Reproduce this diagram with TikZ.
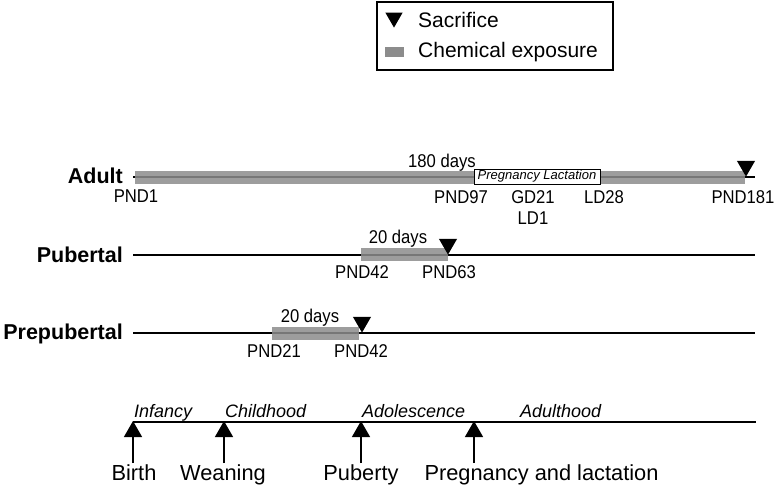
\documentclass[tikz,border=0pt]{standalone}
\usepackage{fontspec}
\setmainfont{Liberation Sans}
\newfontfamily\narrowsans[FakeStretch=0.9]{Liberation Sans}
\usetikzlibrary{shapes.geometric, arrows.meta}
\definecolor{exposuregray}{RGB}{140,140,140}

\begin{document}
\begin{tikzpicture}[
    x=1pt, y=-1pt,
    group/.style={inner sep=0pt, anchor=base east, font=\fontsize{21.5}{25}\selectfont\bfseries},
    daylbl/.style={inner sep=0pt, anchor=base, font=\narrowsans\fontsize{18.5}{21}\selectfont},
    period/.style={inner sep=0pt, anchor=base west, font=\fontsize{18}{21}\selectfont\itshape},
    event/.style={inner sep=0pt, anchor=base, font=\fontsize{21.8}{25}\selectfont},
    timeline/.style={line width=1.6pt},
    exposure/.style={fill=exposuregray, fill opacity=0.85},
    sacrifice/.style={regular polygon, regular polygon sides=3, shape border rotate=180,
        fill=black, inner sep=0pt, minimum size=21pt, anchor=corner 1},
    milestone/.style={line width=1.2pt, -{Triangle[length=16pt, width=18pt]}}
]
\useasboundingbox (0,0) rectangle (780,487);

% legend
\draw[line width=1.4pt] (377,2) rectangle (613,70);
\node[sacrifice, minimum size=20pt] (legsac) at (394,28) {};
\fill[exposuregray] (385,47) rectangle (404,57);
\node[inner sep=0pt, anchor=base west, font=\fontsize{21}{25}\selectfont] (legsactxt) at (418,28) {Sacrifice};
\node[inner sep=0pt, anchor=base west, font=\fontsize{21}{25}\selectfont] (legexptxt) at (418,58) {Chemical exposure};

% groups
\node[group] (adult) at (123,183) {Adult};
\node[group] (pubertal) at (123,262) {Pubertal};
\node[group] (prepubertal) at (123,339) {Prepubertal};

\coordinate (adultS) at (133,177);
\coordinate (adultE) at (755,177);
\coordinate (pubS) at (133,255);
\coordinate (pubE) at (755,255);
\coordinate (prepubS) at (133,333);
\coordinate (prepubE) at (755,333);
\draw[timeline] (adultS) -- (adultE);
\draw[timeline] (pubS) -- (pubE);
\draw[timeline] (prepubS) -- (prepubE);

% exposure windows
\fill[exposure] (135,171) rectangle (745,184);
\fill[exposure] (361,248) rectangle (448,261);
\fill[exposure] (272,327) rectangle (359,340);

\node[draw, fill=white, line width=1pt, minimum width=126pt, minimum height=15pt, inner sep=0pt,
    font=\fontsize{13}{15}\selectfont\itshape] (preglact) at (537,176.5) {Pregnancy Lactation};

\node[sacrifice] (adultsac) at (746,177) {};
\node[sacrifice] (pubsac) at (448,255) {};
\node[sacrifice] (prepubsac) at (362,333) {};

% day labels
\node[daylbl] (adultdays) at (442,167) {180 days};
\node[daylbl] (pnd1) at (136,202) {PND1};
\node[daylbl] (pnd97) at (461,203) {PND97};
\node[daylbl] (gd21) at (533,203) {GD21};
\node[daylbl] (ld1) at (533,224) {LD1};
\node[daylbl] (ld28) at (604,203) {LD28};
\node[daylbl] (pnd181) at (743,203) {PND181};
\node[daylbl] (pubdays) at (398,243) {20 days};
\node[daylbl] (pubpnd42) at (362,278) {PND42};
\node[daylbl] (pnd63) at (449,278) {PND63};
\node[daylbl] (prepubdays) at (310,322) {20 days};
\node[daylbl] (pnd21) at (274,357) {PND21};
\node[daylbl] (prepubpnd42) at (361,357) {PND42};

% life stages
\coordinate (lifeS) at (133,422);
\coordinate (lifeE) at (756,422);
\draw[timeline] (lifeS) -- (lifeE);

\node[period] (infancy) at (134,417) {Infancy};
\node[period] (childhood) at (225,417) {Childhood};
\node[period] (adolescence) at (362,417) {Adolescence};
\node[period] (adulthood) at (520,417) {Adulthood};

\coordinate (birthB) at (133,463);
\coordinate (birthT) at (133,421);
\coordinate (weanB) at (224,463);
\coordinate (weanT) at (224,421);
\coordinate (pubertyB) at (361,463);
\coordinate (pubertyT) at (361,421);
\coordinate (pregB) at (474,463);
\coordinate (pregT) at (474,421);
\draw[milestone] (birthB) -- (birthT);
\draw[milestone] (weanB) -- (weanT);
\draw[milestone] (pubertyB) -- (pubertyT);
\draw[milestone] (pregB) -- (pregT);

\node[event] (birth) at (134,480) {Birth};
\node[event] (weaning) at (223,480) {Weaning};
\node[event] (puberty) at (361,480) {Puberty};
\node[event] (pregnancy) at (541.5,480) {Pregnancy and lactation};

\end{tikzpicture}
\end{document}
